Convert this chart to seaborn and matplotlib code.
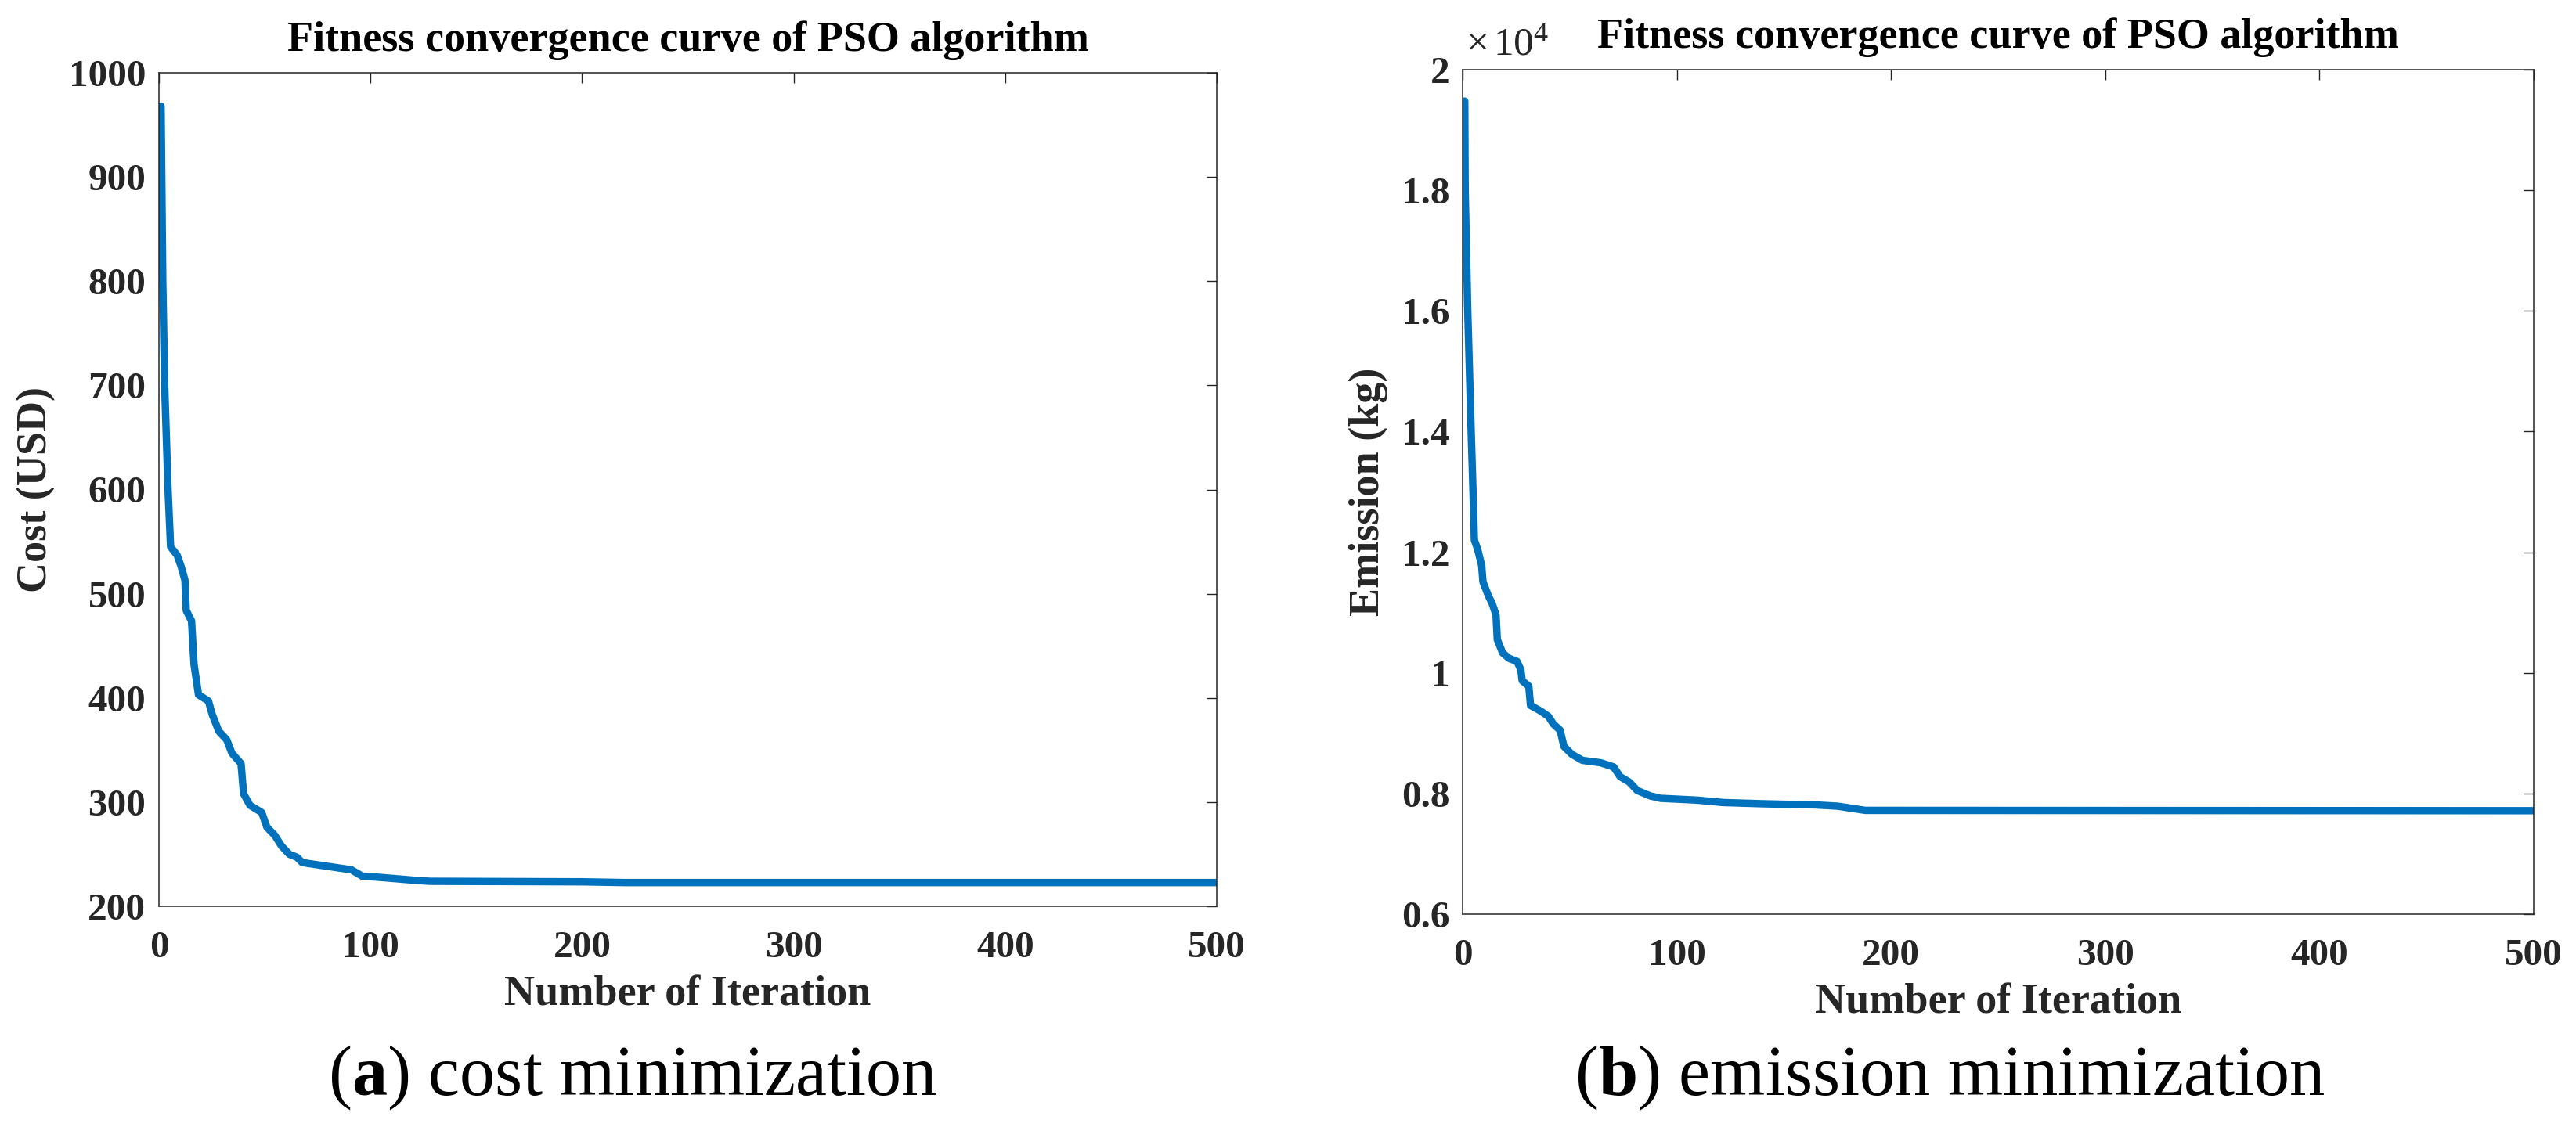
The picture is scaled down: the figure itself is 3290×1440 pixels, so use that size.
import matplotlib
matplotlib.use("Agg")
import matplotlib.pyplot as plt
import seaborn as sns
import pandas as pd
from matplotlib.ticker import FuncFormatter

# ---- data ----
cost_iter = [1, 1.8, 2.7, 4.3, 5.5, 8.6, 10.5, 12.3, 12.9, 15.4, 16.6, 18.7, 23.4, 25.2,
             28.3, 32, 34.5, 38.8, 40, 43, 48.6, 51, 54.8, 57.9, 61.6, 65.3, 67.7, 77.6,
             91, 96, 106, 120.7, 128, 200, 220, 500]
cost_val = [968, 800, 700, 600, 545, 537, 526, 513, 484, 474, 432, 403, 397, 384,
            368, 360, 347, 337, 308, 297, 290, 276, 268, 258, 250, 247, 242, 239,
            235, 229, 227.5, 225, 224, 223.5, 222.8, 222.8]

em_iter = [1, 1.2, 2.4, 4, 4.9, 5.5, 7, 8.9, 9.5, 12, 13.8, 15.6, 16.2, 18.7, 21.7, 25.4,
           27.2, 27.8, 30.9, 31.7, 36.3, 40, 42.4, 45.5, 47.3, 51, 55.9, 64.4, 70.5, 73.5,
           77.8, 81.5, 87.6, 92.4, 109.5, 121.7, 140, 165, 175, 188, 500]
em_val = [19480, 18000, 16000, 14000, 12960, 12200, 12050, 11780, 11510, 11280, 11150,
          10960, 10550, 10330, 10240, 10190, 10050, 9870, 9780, 9460, 9370, 9280, 9150,
          9050, 8780, 8650, 8550, 8510, 8440, 8280, 8190, 8050, 7960, 7920, 7890, 7850,
          7830, 7810, 7790, 7720, 7715]

x_ticks = [0, 100, 200, 300, 400, 500]
cost_ticks = [200, 300, 400, 500, 600, 700, 800, 900, 1000]
em_ticks = [6000, 8000, 10000, 12000, 14000, 16000, 18000, 20000]

title_text = "Fitness convergence curve of PSO algorithm"
xlabel_text = "Number of Iteration"
ylabel_cost = "Cost (USD)"
ylabel_em = "Emission (kg)"

# ---- style ----
sns.set_theme(style="white")
plt.rcParams["font.family"] = ["Liberation Serif", "DejaVu Serif"]
plt.rcParams["mathtext.fontset"] = "custom"
plt.rcParams["mathtext.rm"] = "Liberation Serif"
plt.rcParams["mathtext.bf"] = "Liberation Serif:bold"
plt.rcParams["mathtext.it"] = "Liberation Serif:italic"

LINE_COLOR = "#0072BD"
AX_COLOR = "#262626"
TICK_FS = 35.5
LABEL_FS = 39
TITLE_FS = 39

W, H = 3290, 1440
fig = plt.figure(figsize=(W / 100, H / 100), dpi=100)
fig.patch.set_facecolor("white")

def px_axes(x0, y0, x1, y1):
    return fig.add_axes([x0 / W, 1 - y1 / H, (x1 - x0) / W, (y1 - y0) / H])

ax1 = px_axes(203, 93, 1554, 1158)
ax2 = px_axes(1868, 89, 3236, 1168)

df_cost = pd.DataFrame({"iter": cost_iter, "cost": cost_val})
df_em = pd.DataFrame({"iter": em_iter, "em": em_val})

sns.lineplot(data=df_cost, x="iter", y="cost", ax=ax1, color=LINE_COLOR,
             linewidth=6.8, estimator=None, sort=False)
sns.lineplot(data=df_em, x="iter", y="em", ax=ax2, color=LINE_COLOR,
             linewidth=6.8, estimator=None, sort=False)

for ax in (ax1, ax2):
    ax.set_xlim(0, 500)
    ax.set_xticks(x_ticks)
    for s in ax.spines.values():
        s.set_visible(True)
        s.set_color(AX_COLOR)
        s.set_linewidth(1.1)
    ax.tick_params(axis="both", which="both", direction="in", top=True, right=True,
                   length=9.5, width=1.0, color=AX_COLOR, labelcolor=AX_COLOR,
                   labelsize=TICK_FS)
    ax.tick_params(axis="x", pad=22)
    ax.tick_params(axis="y", pad=12)
    ax.set_title(title_text, fontsize=TITLE_FS, fontweight="bold", color="black", pad=20)
    ax.set_xlabel(xlabel_text, fontsize=LABEL_FS, fontweight="bold", color=AX_COLOR,
                  labelpad=10)
    ax.grid(False)

ax1.set_ylim(200, 1000)
ax1.set_yticks(cost_ticks)
ax1.set_ylabel(ylabel_cost, fontsize=LABEL_FS, fontweight="bold", color=AX_COLOR, labelpad=12)

ax2.set_ylim(6000, 20000)
ax2.set_yticks(em_ticks)
ax2.yaxis.set_major_formatter(FuncFormatter(lambda v, p: "%g" % (v / 1e4)))
ax2.set_ylabel(ylabel_em, fontsize=LABEL_FS, fontweight="bold", color=AX_COLOR, labelpad=12)
for lab in ax1.get_xticklabels() + ax1.get_yticklabels() + ax2.get_xticklabels() + ax2.get_yticklabels():
    lab.set_fontweight("bold")

fig.text(1872 / W, 1 - 70 / H, r"$\times\,10^{4}$", fontsize=37, color=AX_COLOR,
         ha="left", va="baseline")

# captions
fig.text(808 / W, 1 - 1399 / H, r"($\mathbf{a}$) cost minimization", fontsize=65,
         color="black", ha="center", va="baseline")
fig.text(2490 / W, 1 - 1399 / H, r"($\mathbf{b}$) emission minimization", fontsize=65,
         color="black", ha="center", va="baseline")

fig.savefig("out.png", dpi=100, facecolor="white")
